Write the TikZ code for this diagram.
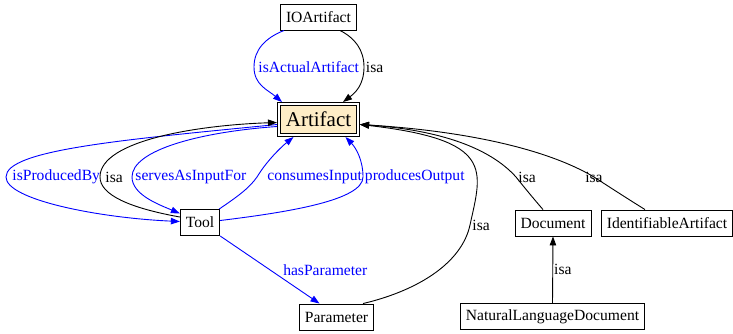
\documentclass[tikz,border=0pt]{standalone}
\usepackage{fontspec}
\setmainfont{Liberation Serif}
\usepackage{tikz}
\usetikzlibrary{positioning,arrows.meta}
\definecolor{artfill}{RGB}{254,237,198}
\tikzset{cnode/.style={draw,rectangle,line width=0.9pt,inner xsep=5.5pt,inner ysep=0pt,minimum height=26pt,font=\fontsize{15.6}{18}\selectfont},
	 rnode/.style={draw,rectangle,double,double distance=2.2pt,line width=0.9pt,fill=artfill,inner sep=0pt,minimum width=79pt,minimum height=31pt,outer sep=2pt,font=\fontsize{21}{24}\selectfont},
	 rel/.style={blue,line width=0.9pt,-{Triangle[length=9pt,width=6.5pt]}},
	 isa/.style={black,line width=0.9pt,-{Triangle[length=9pt,width=6.5pt]}},
	 rlabel/.style={text=blue,inner sep=1pt,font=\fontsize{15.6}{18}\selectfont},
	 ilabel/.style={text=black,inner sep=1pt,font=\fontsize{15.6}{18}\selectfont}
	 }

\begin{document}
\begin{tikzpicture}[x=1pt,y=-1pt] % artifact ontology
	\useasboundingbox (0,0) rectangle (733,333);
        \node[cnode] (io) at (318.5,17) {IOArtifact};
        \node[rnode] (art) at (318.5,119.5) {Artifact};
        \node[cnode] (tool) at (200,222.5) {Tool};
        \node[cnode] (param) at (336.5,317) {Parameter};
        \node[cnode] (doc) at (553,223) {Document};
        \node[cnode] (ida) at (667,223) {IdentifiableArtifact};
        \node[cnode] (nld) at (552.5,316.5) {NaturalLanguageDocument};
	\draw[rel] ([xshift=4pt]io.south west) .. controls (265,38) and (254,50) .. (254,67)
		node[rlabel,right=3pt] (lact) {isActualArtifact}
		.. controls (254,85) and (268,90) .. ([xshift=5pt]art.north west);
	\draw[isa] ([xshift=-17pt]io.south east) .. controls (355,38) and (364,50) .. (364,67)
		node[ilabel,right=0.5pt] (lio) {isa}
		.. controls (364,85) and (355,93) .. ([xshift=-17pt]art.north east);
	\draw[rel] ([yshift=-5pt]art.west) .. controls (120,140) and (6,150) .. (6,177)
		node[rlabel,right=5pt] (lprod) {isProducedBy}
		.. controls (6,200) and (100,218) .. ([yshift=1pt]tool.west);
	\draw[isa] ([yshift=5.5pt]tool.west) .. controls (130,208) and (100,195) .. (100,177)
		node[ilabel,right=4pt] (ltool) {isa}
		.. controls (100,140) and (200,125) .. ([yshift=-3pt]art.west);
	\draw[rel] ([yshift=-7pt]art.west) .. controls (200,132) and (132,150) .. (132,177)
		node[rlabel,right=2pt] (lserv) {servesAsInputFor}
		.. controls (132,195) and (160,205) .. ([yshift=9pt]tool.west);
	\draw[rel] ([xshift=-1pt]tool.north east) .. controls (240,195) and (250,187) .. (257,177)
		node[rlabel,right=9pt] (lcons) {consumesInput}
		.. controls (266,162) and (280,148) .. ([xshift=-25pt]art.south);
	\draw[rel] ([yshift=2pt]tool.east) .. controls (290,212) and (363,200) .. (363,177)
		node[rlabel,right=0.5pt] (lout) {producesOutput}
		.. controls (363,160) and (356,148) .. ([xshift=27pt]art.south);
	\draw[rel] (tool.south east) -- node[rlabel,right=12pt] (lpar) {hasParameter} ([xshift=-17pt]param.north);
	\draw[isa] ([xshift=-11pt]param.north east) .. controls (420,290) and (462,262) .. (470,225)
		node[ilabel,right=1pt] (lparam) {isa}
		.. controls (482,170) and (495,140) .. ([yshift=-5pt]art.east);
	\draw[isa] ([xshift=-10pt]doc.north) .. controls (533,198) and (524,187) .. (516,177)
		node[ilabel,right=1pt] (ldoc) {isa}
		.. controls (490,148) and (440,130) .. ([yshift=-5pt]art.east);
	\draw[isa] ([xshift=-22pt]ida.north) .. controls (628,199) and (611,188) .. (594,177)
		node[ilabel] (lida) {isa}
		.. controls (540,145) and (450,130) .. ([yshift=-5pt]art.east);
	\draw[isa] (nld.north) -- node[ilabel,right=0pt] (lnld) {isa} (doc.south);
\end{tikzpicture}
\end{document}
